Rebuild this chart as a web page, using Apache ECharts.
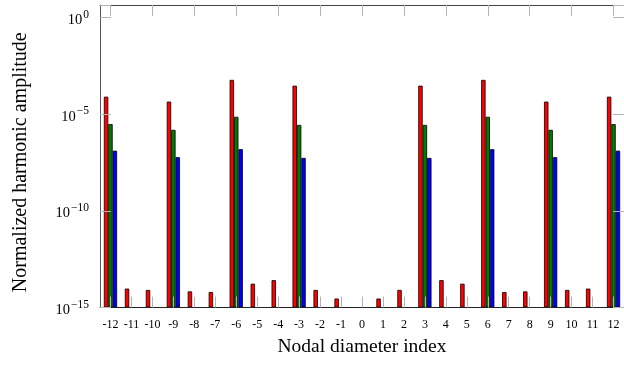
<!DOCTYPE html>
<html>
<head>
<meta charset="utf-8">
<script src="https://cdn.jsdelivr.net/npm/echarts@6/dist/echarts.min.js"></script>
<style>
  html, body { margin: 0; padding: 0; background: #fff; }
  #chart { width: 624px; height: 366px; }
</style>
</head>
<body>
<div id="chart"></div>
<script>
// nodal diameter index -12..12
const categories = ["-12", "-11", "-10", "-9", "-8", "-7", "-6", "-5", "-4", "-3", "-2", "-1",
  "0", "1", "2", "3", "4", "5", "6", "7", "8", "9", "10", "11", "12"];

const redValues = [8.1e-5, 9.5e-15, 8.1e-15, 4.5e-5, 6.8e-15, 6.3e-15, 6.0e-4, 1.7e-14, 2.6e-14, 3.0e-4, 8.1e-15, 2.9e-15,
  null, 2.9e-15, 8.1e-15, 3.0e-4, 2.6e-14, 1.7e-14, 6.0e-4, 6.3e-15, 6.8e-15, 4.5e-5, 8.1e-15, 9.5e-15, 8.1e-5];
const greenValues = [3.1e-6, null, null, 1.55e-6, null, null, 7.4e-6, null, null, 2.8e-6, null, null,
  null, null, null, 2.8e-6, null, null, 7.4e-6, null, null, 1.55e-6, null, null, 3.1e-6];
const blueValues = [1.3e-7, null, null, 6.0e-8, null, null, 1.55e-7, null, null, 5.5e-8, null, null,
  null, null, null, 5.5e-8, null, null, 1.55e-7, null, null, 6.0e-8, null, null, 1.3e-7];

const yTickExponents = [-15, -10, -5, 0];

const FONT = "Liberation Serif";
const tickGray = "#b4b4b4";

const chart = echarts.init(document.getElementById("chart"), null, { renderer: "canvas" });

function yLabel(v) {
  const e = Math.log10(v);
  const r = Math.round(e);
  if (Math.abs(e - r) > 0.01 || yTickExponents.indexOf(r) < 0) return "";
  const exp = r === 0 ? "0" : "\u2212" + Math.abs(r);
  return "{b|10}{s|" + exp + "}";
}

const catAxisBase = {
  type: "category",
  data: categories,
  boundaryGap: true,
  z: 5,
  axisLine: { show: true, lineStyle: { color: "#444", width: 1 } },
  axisTick: { show: true, inside: true, length: 11, alignWithLabel: true, lineStyle: { color: tickGray, width: 1 } },
  splitLine: { show: false }
};

const valAxisBase = {
  type: "log",
  logBase: 10,
  min: 1e-15,
  max: 4.5,
  interval: 5,
  startValue: 1e-15,
  z: 5,
  axisLine: { show: true, lineStyle: { color: "#555", width: 1 } },
  axisTick: { show: true, inside: true, length: 11, lineStyle: { color: tickGray, width: 1 } },
  minorTick: { show: false },
  splitLine: { show: false }
};

function barSeries(name, values, color) {
  return {
    name: name,
    type: "bar",
    data: values,
    barWidth: 4.4,
    barGap: "0%",
    itemStyle: { color: color, borderColor: "#000", borderWidth: 0.8 },
    animation: false
  };
}

chart.setOption({
  animation: false,
  grid: { left: 100, right: -5, top: 5, bottom: 58.5, containLabel: false },
  xAxis: [
    Object.assign({}, catAxisBase, {
      position: "bottom",
      axisLine: { show: true, lineStyle: { color: "#222", width: 1 } },
      axisLabel: { show: true, interval: 0, margin: 11, color: "#000", fontFamily: FONT, fontSize: 12 },
      name: "Nodal diameter index",
      nameLocation: "middle",
      nameGap: 29,
      nameTextStyle: { color: "#000", fontFamily: FONT, fontSize: 19.5 }
    }),
    Object.assign({}, catAxisBase, {
      position: "top",
      axisLabel: { show: false }
    })
  ],
  yAxis: [
    Object.assign({}, valAxisBase, {
      position: "left",
      axisLabel: {
        show: true,
        margin: 11,
        formatter: yLabel,
        rich: {
          b: { fontFamily: FONT, fontSize: 14.5, color: "#000", padding: [5, 0, 0, 0] },
          s: { fontFamily: FONT, fontSize: 11.5, color: "#000", padding: [0, 0, 6, 1] }
        }
      },
      name: "Normalized harmonic amplitude",
      nameLocation: "middle",
      nameGap: 69,
      nameTextStyle: { color: "#000", fontFamily: FONT, fontSize: 20, padding: [0, 12, 0, 0] }
    }),
    Object.assign({}, valAxisBase, {
      position: "right",
      axisLabel: { show: false }
    })
  ],
  series: [
    barSeries("red", redValues, "#ff0000"),
    barSeries("green", greenValues, "#007a00"),
    barSeries("blue", blueValues, "#0000ff")
  ]
});
</script>
</body>
</html>
